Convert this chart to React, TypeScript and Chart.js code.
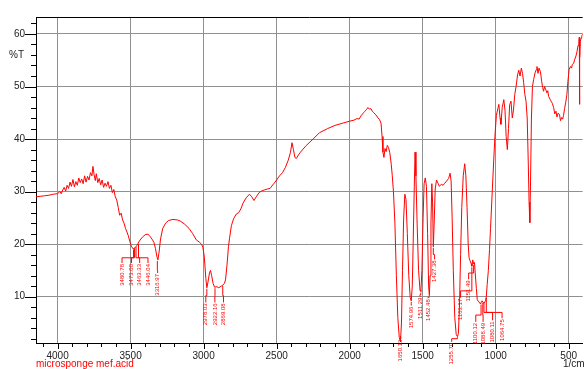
import React, { useEffect, useRef } from "react";
import { Chart, registerables } from "chart.js";
Chart.register(...registerables);

const FONT = "'Liberation Sans', Arial, sans-serif";

// Spectrum: wavenumber (1/cm) and transmittance (%T)
const wavenumbers = [
  // 4148-3565
  4148, 4120, 4090, 4060, 4030, 4000, 3985, 3975, 3965, 3955,
  3945, 3935, 3925, 3915, 3905, 3895, 3885, 3875, 3865, 3855,
  3845, 3835, 3825, 3815, 3805, 3795, 3785, 3775, 3765, 3758,
  3750, 3742, 3735, 3725, 3715, 3705, 3695, 3685, 3675, 3665,
  3655, 3645, 3635, 3625, 3615, 3605, 3595, 3585, 3575, 3565,
  // 3555-2850
  3555, 3545, 3535, 3525, 3517, 3505, 3495, 3483, 3470, 3455,
  3440, 3420, 3400, 3381, 3365, 3350, 3340, 3330, 3320, 3313,
  3305, 3295, 3280, 3260, 3240, 3210, 3180, 3160, 3130, 3100,
  3075, 3050, 3030, 3015, 3005, 2995, 2985, 2978, 2970, 2960,
  2953, 2945, 2935, 2925, 2910, 2896, 2880, 2869, 2858, 2850,
  // 2840-1750
  2840, 2830, 2823, 2810, 2795, 2777, 2760, 2745, 2730, 2709,
  2686, 2670, 2655, 2640, 2620, 2604, 2585, 2563, 2545, 2520,
  2500, 2480, 2460, 2440, 2420, 2405, 2395, 2385, 2375, 2365,
  2350, 2340, 2300, 2250, 2207, 2150, 2100, 2050, 2000, 1970,
  1950, 1935, 1920, 1905, 1895, 1885, 1875, 1865, 1855, 1845,
  1835, 1820, 1805, 1795, 1785, 1778, 1772, 1765, 1758, 1750,
  // 1742-1042
  1742, 1734, 1725, 1715, 1708, 1700, 1690, 1680, 1670, 1660,
  1652, 1645, 1638, 1630, 1622, 1614, 1605, 1595, 1585, 1578,
  1571, 1565, 1558, 1552, 1546, 1538, 1528, 1518, 1512, 1505,
  1497, 1490, 1482, 1474, 1466, 1459, 1454, 1449, 1443, 1437,
  1432, 1427, 1421, 1414, 1405, 1395, 1385, 1372, 1360, 1348,
  1336, 1322, 1312, 1305, 1298, 1290, 1280, 1270, 1262, 1255,
  1248, 1240, 1232, 1222, 1212, 1204, 1196, 1188, 1182, 1175,
  1168, 1163, 1157, 1151, 1145, 1140, 1132, 1126, 1115, 1103,
  1097, 1092, 1086, 1081, 1075, 1069, 1064, 1058, 1050, 1042,
  // 1035-404
  1035, 1020, 1005, 995, 985, 978, 970, 964, 955, 944,
  936, 928, 920, 912, 904, 895, 886, 878, 869, 860,
  850, 842, 833, 824, 816, 808, 800, 792, 784, 777,
  771, 766, 761, 755, 748, 740, 730, 722, 717, 710,
  703, 693, 685, 678, 672, 665, 658, 649, 643, 637,
  628, 620, 612, 603, 595, 587, 580, 573, 563, 556,
  548, 541, 535, 528, 520, 512, 505, 497, 488, 480,
  475, 466, 458, 450, 443, 436, 430, 427, 425.5, 424,
  420, 415, 410, 404,
];

const transmittance = [
  // 4148-3565
  29.0, 29.1, 29.2, 29.3, 29.5, 29.6, 30.0, 29.6, 30.3, 30.8,
  30.1, 31.2, 30.6, 31.8, 31.0, 32.3, 30.9, 31.9, 31.2, 32.6,
  31.7, 32.4, 31.5, 33.0, 31.8, 32.9, 32.2, 33.6, 33.0, 34.8,
  33.2, 32.1, 33.4, 31.7, 32.5, 31.3, 32.2, 30.8, 31.6, 31.0,
  31.9, 30.6, 31.2, 29.8, 30.4, 29.0, 28.4, 27.0, 25.5, 25.9,
  // 3555-2850
  24.6, 24.0, 23.0, 22.3, 21.7, 20.5, 19.6, 19.1, 19.3, 19.8,
  20.6, 21.3, 21.8, 21.9, 21.4, 20.8, 20.3, 19.2, 17.6, 17.0,
  18.5, 21.0, 23.0, 24.0, 24.5, 24.7, 24.6, 24.4, 23.8, 23.0,
  22.0, 20.8, 20.4, 20.0, 19.4, 17.5, 13.5, 11.7, 12.8, 14.5,
  15.0, 14.0, 12.5, 11.8, 11.9, 11.7, 12.0, 12.2, 12.5, 13.2,
  // 2840-1750
  16.0, 19.5, 21.0, 23.5, 24.8, 25.7, 26.0, 26.7, 27.8, 28.8,
  29.5, 29.0, 28.3, 29.0, 29.8, 30.1, 30.3, 30.5, 30.6, 31.5,
  32.2, 33.0, 33.6, 34.6, 36.0, 37.5, 39.3, 38.0, 36.5, 36.3,
  37.0, 37.4, 38.7, 40.0, 41.2, 42.0, 42.6, 43.0, 43.4, 43.6,
  43.9, 43.8, 44.5, 45.0, 45.3, 45.6, 46.0, 45.7, 45.8, 45.3,
  45.0, 44.6, 44.0, 43.7, 43.0, 40.5, 37.5, 36.5, 38.2, 37.6,
  // 1742-1042
  38.8, 38.4, 37.4, 35.2, 33.0, 30.0, 24.0, 14.0, 6.0, 2.2,
  1.4, 5.0, 15.0, 25.0, 29.5, 28.5, 22.0, 14.0, 9.8, 9.2,
  12.0, 20.0, 30.0, 37.5, 33.0, 24.0, 15.0, 11.2, 11.0, 15.0,
  25.0, 31.5, 32.6, 31.0, 22.0, 12.0, 10.2, 14.0, 24.0, 31.5,
  28.0, 19.5, 24.0, 30.5, 32.2, 31.6, 31.0, 31.4, 31.2, 31.6,
  32.0, 32.5, 33.5, 32.0, 25.0, 15.0, 6.0, 2.8, 2.4, 3.0,
  8.0, 18.0, 27.0, 33.0, 35.3, 33.0, 27.0, 20.0, 17.4, 16.8,
  16.3, 15.8, 17.0, 16.2, 16.5, 14.5, 11.5, 9.4, 9.0, 8.6,
  9.1, 9.2, 8.9, 8.7, 9.0, 9.2, 10.0, 12.3, 15.0, 19.0,
  // 1035-404
  23.0, 32.0, 40.5, 44.5, 45.8, 46.6, 44.0, 42.8, 46.0, 47.5,
  45.5, 40.5, 38.0, 42.0, 46.5, 47.2, 44.0, 45.5, 48.5, 50.0,
  52.2, 53.1, 52.0, 53.5, 52.5, 50.7, 48.5, 47.2, 44.0, 36.0,
  28.0, 24.1, 32.0, 44.0, 50.0, 51.3, 52.6, 53.2, 53.8, 52.5,
  53.5, 52.8, 51.0, 49.8, 49.1, 50.0, 49.5, 48.8, 49.2, 48.1,
  47.6, 47.2, 46.8, 46.0, 44.8, 45.3, 44.2, 44.9, 44.7, 43.5,
  44.1, 43.8, 44.5, 45.8, 47.0, 48.5, 51.0, 53.2, 53.8, 53.5,
  54.2, 54.4, 55.2, 55.8, 56.6, 57.8, 58.6, 59.4, 46.6, 55.5,
  58.6, 59.2, 59.6, 60.0,
];

// Axis ticks
const yTickValues = [2, 4, 6, 8, 10, 12, 14, 16, 18, 20, 22, 24, 26, 28, 30, 32, 34, 36, 38, 40, 42, 44, 46, 48, 50, 52, 54, 56, 58, 60, 62];
const xTickValues = [4100, 4000, 3900, 3800, 3700, 3600, 3500, 3400, 3300, 3200, 3100, 3000, 2900, 2800, 2700, 2600, 2500, 2400, 2300, 2200, 2100, 2000, 1900, 1800, 1700, 1600, 1500, 1400, 1300, 1200, 1100, 1000, 900, 800, 700, 600, 500];

// Peak annotations
const peakLabels = ["3480.78", "3473.00", "3463.33", "3446.04", "3316.97", "2978.03", "2922.16", "2869.08", "1650.13", "1574.96", "1511.29", "1452.48", "1427.38", "1255.70", "1163.17", "1151.49", "1100.12", "1088.49", "1080.11", "1064.75"];
const peakWn = [3480, 3473, 3463, 3446, 3317, 2978, 2922, 2869, 1652, 1578, 1512, 1454, 1427, 1262, 1163, 1151, 1100, 1088, 1080, 1064];
const peakT = [19.0, 19.2, 19.5, 20.0, 16.8, 11.5, 11.6, 12.1, 2.5, 9.0, 10.8, 10.0, 19.3, 2.3, 15.6, 16.0, 8.5, 8.8, 8.6, 9.8];
const labelWn = [3559, 3494, 3438, 3381, 3315, 2985, 2923, 2864, 1650, 1578, 1518, 1463, 1418, 1301, 1240, 1185, 1136, 1086, 1021, 956];
const elbowT = [17.4, 17.4, 17.4, 17.4, 15.0, 10.2, 10.2, 10.2, 2.3, 8.7, 10.4, 9.9, 18.0, 2.0, 11.1, 14.5, 6.5, 6.5, 7.0, 7.0];
const labelTopT = [16.4, 16.4, 16.4, 16.4, 14.5, 8.9, 8.9, 8.9, 2.0, 8.3, 10.0, 9.7, 17.1, 1.4, 9.8, 13.3, 5.2, 5.2, 5.5, 5.9];

const sampleName = "microsponge mef.acid";
const yAxisTitle = "%T";
const xAxisTitle = "1/cm";

export default function App() {
  const ref = useRef<HTMLCanvasElement>(null);

  useEffect(() => {
    if (!ref.current) return;
    const points = wavenumbers.map((x, i) => ({ x, y: transmittance[i] }));

    const decor = {
      id: "decor",
      afterDraw(chart: any) {
        const { ctx, chartArea, scales } = chart;
        const xs = scales.x;
        const ys = scales.y;
        ctx.save();
        const line = (x1: number, y1: number, x2: number, y2: number) => {
          ctx.beginPath();
          ctx.moveTo(x1, y1);
          ctx.lineTo(x2, y2);
          ctx.stroke();
        };
        ctx.strokeStyle = "#000";
        ctx.lineWidth = 1;
        line(chartArea.left, chartArea.top + 0.5, chartArea.right, chartArea.top + 0.5);
        yTickValues.forEach((v) => {
          const py = Math.round(ys.getPixelForValue(v)) + 0.5;
          const len = v % 10 === 0 ? 11 : 5;
          line(chartArea.left - len, py, chartArea.left, py);
        });
        xTickValues.forEach((v) => {
          const px = Math.round(xs.getPixelForValue(v)) + 0.5;
          const len = v % 500 === 0 ? 6 : 4;
          line(px, chartArea.bottom, px, chartArea.bottom + len);
        });

        // peak labels
        ctx.strokeStyle = "#ff0000";
        ctx.fillStyle = "#ff0000";
        ctx.font = "6px " + FONT;
        peakLabels.forEach((label, i) => {
          const px = xs.getPixelForValue(peakWn[i]);
          const py = ys.getPixelForValue(peakT[i]);
          const ey = ys.getPixelForValue(elbowT[i]);
          const lx = xs.getPixelForValue(labelWn[i]);
          const ty = ys.getPixelForValue(labelTopT[i]);
          ctx.beginPath();
          ctx.moveTo(px, py);
          ctx.lineTo(px, ey);
          ctx.lineTo(lx, ey);
          ctx.lineTo(lx, ty);
          ctx.stroke();
          ctx.save();
          ctx.translate(lx, ty + 1);
          ctx.rotate(-Math.PI / 2);
          ctx.textAlign = "right";
          ctx.textBaseline = "middle";
          ctx.fillText(label, 0, 0);
          ctx.restore();
        });

        // texts
        ctx.font = "10px " + FONT;
        ctx.textBaseline = "middle";
        ctx.fillStyle = "#ff0000";
        ctx.textAlign = "left";
        ctx.fillText(sampleName, chartArea.left, 364);
        ctx.fillStyle = "#222";
        ctx.fillText(xAxisTitle, 563, 364);
        ctx.textAlign = "center";
        ctx.fillText(yAxisTitle, 16.5, 55);
        ctx.restore();
      },
    };

    const chart = new Chart(ref.current, {
      type: "scatter",
      data: {
        datasets: [
          {
            data: points,
            showLine: true,
            borderColor: "#ff0000",
            backgroundColor: "#ff0000",
            borderWidth: 1,
            pointRadius: 0,
            tension: 0,
          },
        ],
      },
      options: {
        animation: false,
        responsive: false,
        layout: { padding: { top: 11, right: 0, left: 0, bottom: 0 } },
        plugins: { legend: { display: false }, tooltip: { enabled: false } },
        scales: {
          x: {
            type: "linear",
            reverse: true,
            min: 404,
            max: 4148,
            afterBuildTicks: (scale: any) => {
              scale.ticks = xTickValues.map((value) => ({ value }));
            },
            afterFit: (scale: any) => {
              scale.height = 26;
            },
            ticks: {
              autoSkip: false,
              maxRotation: 0,
              padding: 7,
              color: "#222",
              font: { family: FONT, size: 10 },
              callback: (v: any) => (Number(v) % 500 === 0 ? String(v) : ""),
            },
            grid: {
              drawTicks: false,
              color: (c: any) => (c.tick && c.tick.value % 500 === 0 ? "#909090" : "rgba(0,0,0,0)"),
              lineWidth: 1,
            },
            border: { display: true, color: "#000", width: 1 },
          },
          y: {
            type: "linear",
            min: 1.18,
            max: 63.23,
            afterBuildTicks: (scale: any) => {
              scale.ticks = yTickValues.map((value) => ({ value }));
            },
            afterFit: (scale: any) => {
              scale.width = 36;
            },
            ticks: {
              autoSkip: false,
              padding: 11,
              color: "#222",
              font: { family: FONT, size: 10 },
              callback: (v: any) => (Number(v) % 10 === 0 ? String(v) : ""),
            },
            grid: {
              drawTicks: false,
              color: (c: any) => (c.tick && c.tick.value % 10 === 0 ? "#909090" : "rgba(0,0,0,0)"),
              lineWidth: 1,
            },
            border: { display: true, color: "#000", width: 1 },
          },
        },
      },
      plugins: [decor],
    } as any);

    return () => chart.destroy();
  }, []);

  return (
    <div style={{ position: "fixed", left: 0, top: 0, width: 584, height: 369, background: "#fff" }}>
      <canvas ref={ref} width={584} height={369} style={{ display: "block" }} />
    </div>
  );
}
